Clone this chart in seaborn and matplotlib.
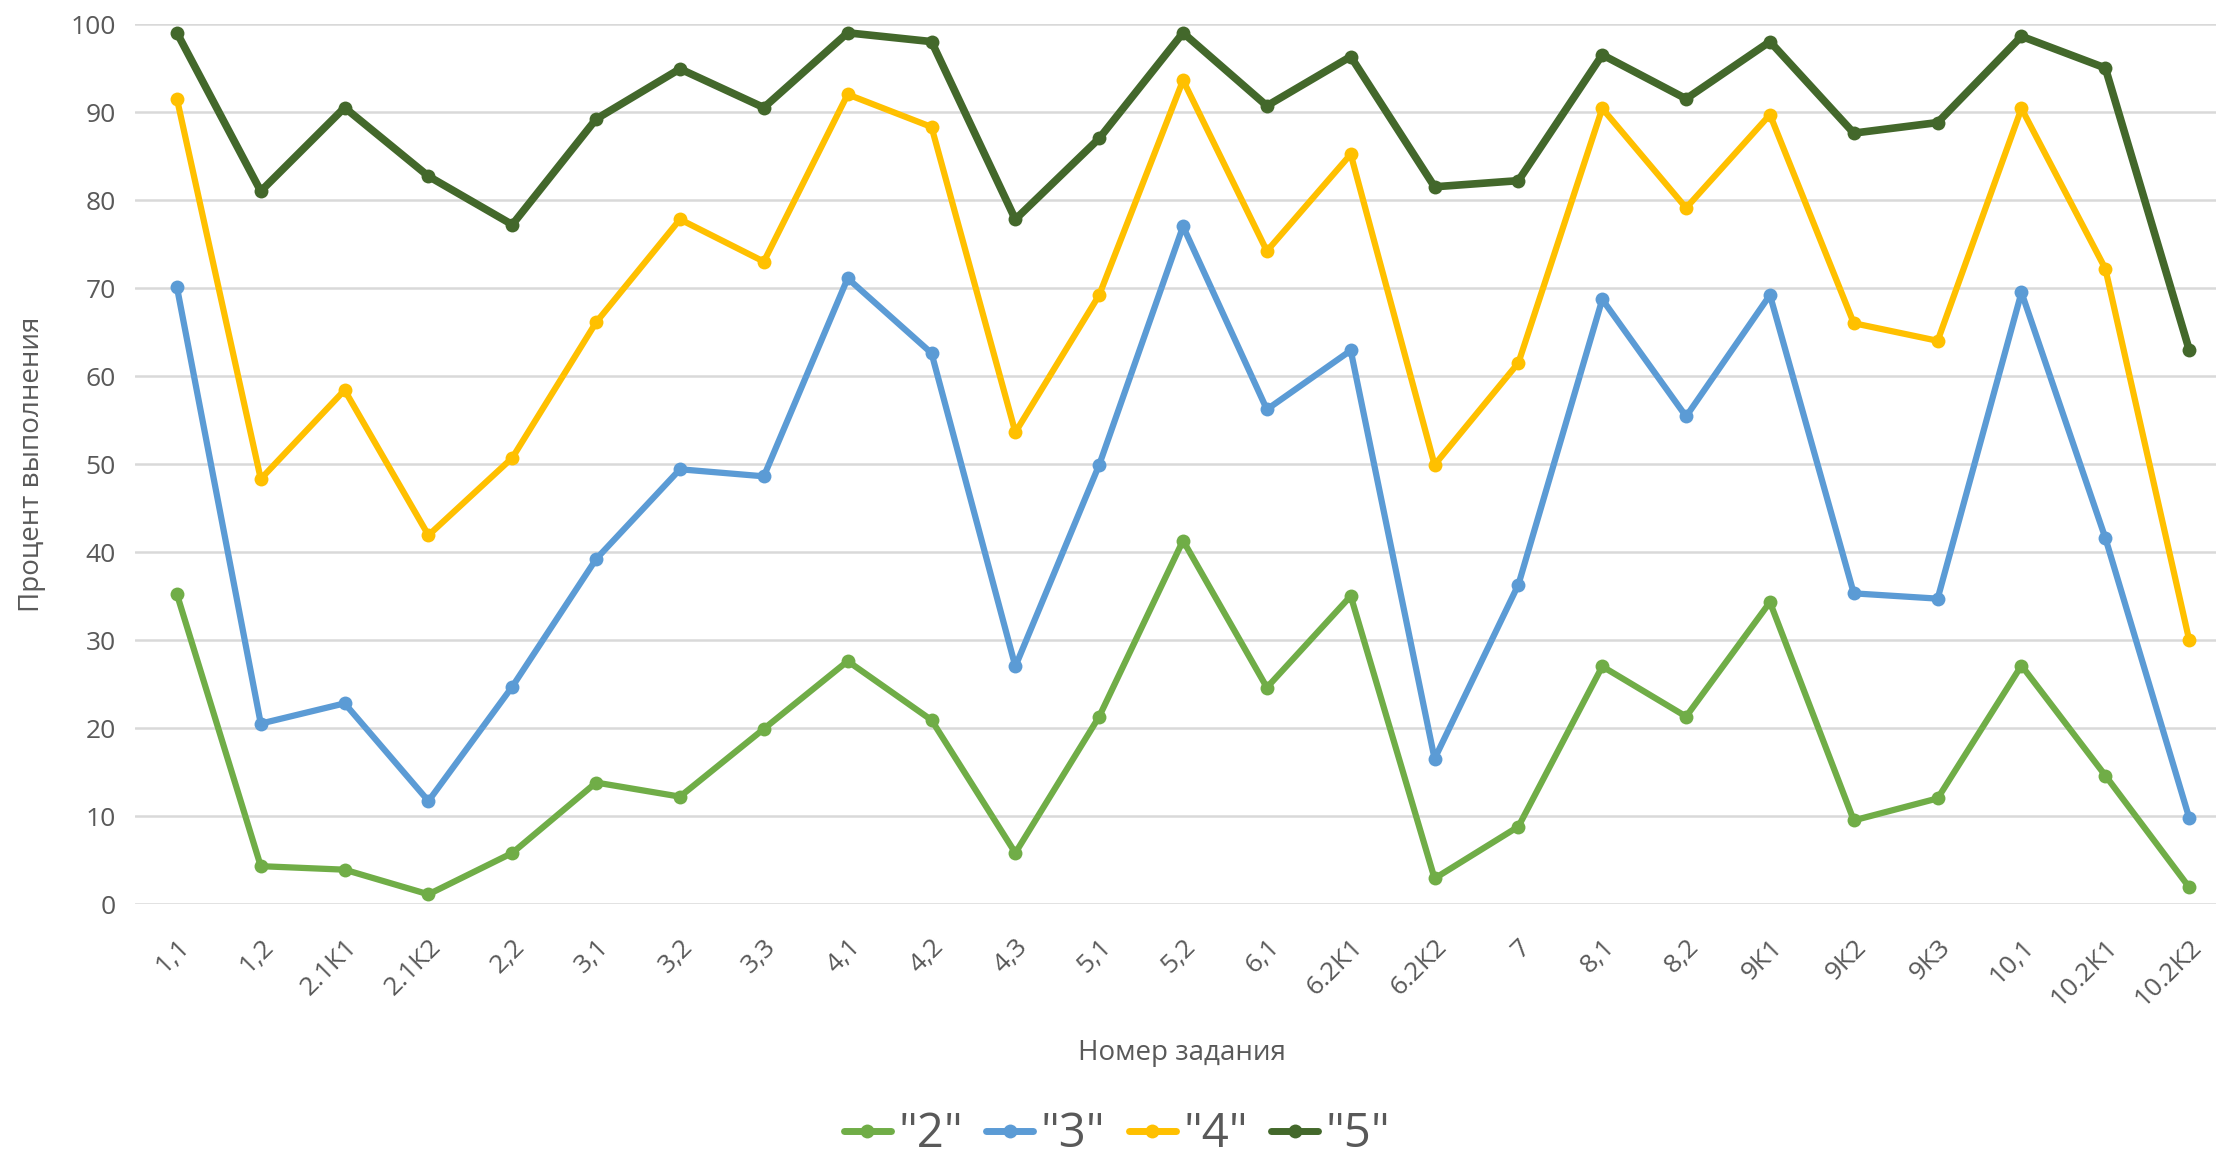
import numpy as np
import pandas as pd
import matplotlib
matplotlib.use("Agg")
import matplotlib.pyplot as plt
import seaborn as sns

# номера заданий
tasks = ["1,1", "1,2", "2.1К1", "2.1К2", "2,2", "3,1", "3,2", "3,3", "4,1", "4,2",
         "4,3", "5,1", "5,2", "6,1", "6.2К1", "6.2К2", "7", "8,1", "8,2", "9К1",
         "9К2", "9К3", "10,1", "10.2К1", "10.2К2"]

# процент выполнения по группам
grade2 = [35.2, 4.3, 3.9, 1.1, 5.8, 13.8, 12.2, 19.9, 27.6, 20.9,
          5.8, 21.3, 41.3, 24.6, 35.0, 2.9, 8.8, 27.0, 21.3, 34.3,
          9.5, 12.0, 27.1, 14.6, 1.9]
grade3 = [70.1, 20.5, 22.8, 11.7, 24.7, 39.2, 49.4, 48.6, 71.1, 62.6,
          27.0, 49.9, 77.0, 56.2, 62.9, 16.5, 36.3, 68.7, 55.4, 69.2,
          35.3, 34.7, 69.5, 41.6, 9.8]
grade4 = [91.5, 48.3, 58.4, 41.9, 50.7, 66.1, 77.8, 73.0, 92.0, 88.3,
          53.6, 69.2, 93.6, 74.2, 85.2, 49.9, 61.5, 90.4, 79.1, 89.7,
          66.0, 64.0, 90.4, 72.2, 30.0]
grade5 = [99.0, 81.0, 90.5, 82.7, 77.2, 89.2, 94.9, 90.5, 99.0, 98.0,
          77.8, 87.0, 99.0, 90.7, 96.3, 81.5, 82.2, 96.5, 91.5, 98.0,
          87.6, 88.8, 98.6, 95.0, 63.0]

series = {'"2"': grade2, '"3"': grade3, '"4"': grade4, '"5"': grade5}
colors = {'"2"': "#70AD47", '"3"': "#5B9BD5", '"4"': "#FFC000", '"5"': "#43682B"}

rows = []
for name, vals in series.items():
    for i, v in enumerate(vals):
        rows.append({"pos": i, "value": v, "group": name})
df = pd.DataFrame(rows)

sns.set_style("white")
plt.rcParams["font.family"] = ["Open Sans", "DejaVu Sans"]
text_color = "#595959"

fig = plt.figure(figsize=(22.16, 11.6), dpi=100)
ax = fig.add_axes([135 / 2216, 1 - 904 / 1160, 1 - 135 / 2216, (904 - 24) / 1160])

sns.lineplot(data=df, x="pos", y="value", hue="group", palette=colors,
             marker="o", markersize=10, markeredgewidth=0, linewidth=4.5,
             ax=ax, legend=False)
# тёмно-зелёная линия чуть толще
ax.lines[3].set_linewidth(5.5)

ax.set_xlim(-0.5, 24.32)
ax.set_ylim(0, 100)
ax.set_yticks(np.arange(0, 101, 10))
ax.set_xticks(range(len(tasks)))
ax.set_xticklabels(tasks, rotation=45, ha="right", va="top",
                   rotation_mode="anchor", fontsize=19, color=text_color)
ax.tick_params(axis="x", length=0, pad=22)
ax.tick_params(axis="y", length=0, pad=14, labelsize=19, labelcolor=text_color)
ax.grid(axis="y", color="#D9D9D9", linewidth=1.8)
ax.set_axisbelow(True)
for s in ax.spines.values():
    s.set_visible(False)

ax.set_xlabel("Номер задания", fontsize=20, color=text_color)
ax.set_ylabel("Процент выполнения", fontsize=20, color=text_color)
ax.xaxis.set_label_coords(0.503, -0.153)
ax.yaxis.set_label_coords(-0.043, 0.5)

handles = [plt.Line2D([], [], color=colors[k], marker="o", markersize=10,
                      linewidth=5, markeredgewidth=0) for k in series]
fig.legend(handles, list(series.keys()), loc="center", ncol=4,
           bbox_to_anchor=(0.504, 0.022), frameon=False, fontsize=34,
           labelcolor=text_color, handlelength=1.0, handletextpad=0.15,
           columnspacing=0.5)

fig.savefig("out.png", dpi=100)
